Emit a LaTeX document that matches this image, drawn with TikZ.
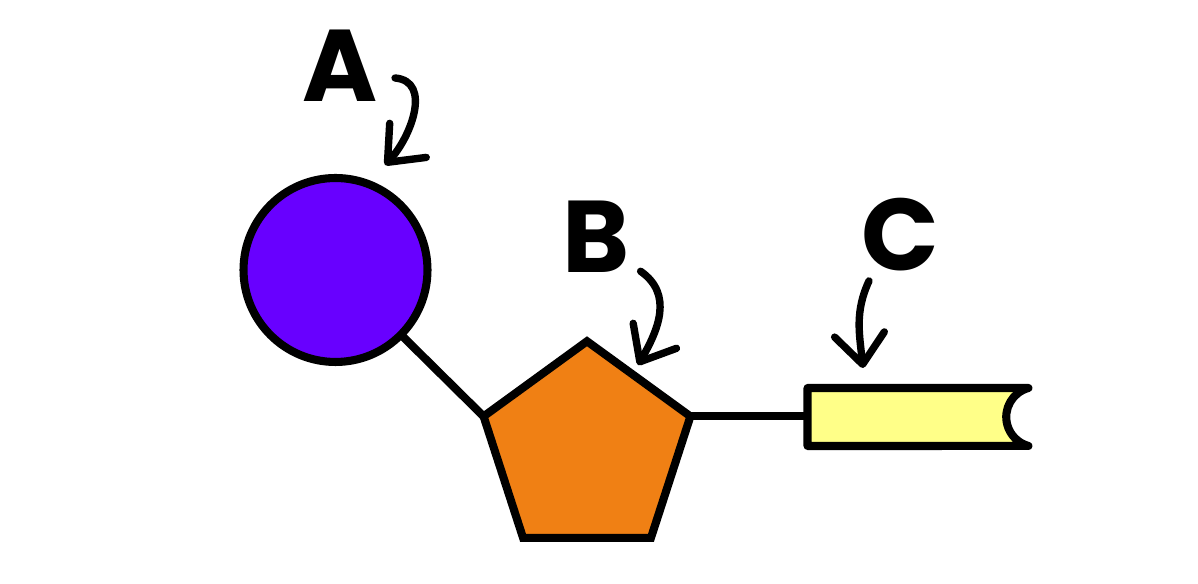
\documentclass[tikz,border=0pt]{standalone}
\usepackage{xcolor}
\usepackage{fontspec}
\setmainfont{Poppins}
\usepackage{tikz}
\usetikzlibrary{shapes.geometric,arrows.meta}

\definecolor{phosphatepurple}{RGB}{104,0,255}
\definecolor{sugarorange}{RGB}{240,128,20}
\definecolor{baseyellow}{RGB}{255,255,136}

\begin{document}
\begin{tikzpicture}[x=0.02cm, y=0.02cm,
    every node/.style={inner sep=0pt, outer sep=0pt},
    outline/.style={draw=black, line width=4.6pt},
    letter/.style={font=\fontsize{58}{58}\selectfont\bfseries},
    pointer/.style={line width=4.2pt, line cap=round, line join=round, -{Straight Barb[length=0.6cm, width=1.0cm, round]}}]
    \useasboundingbox (0,0) rectangle (1198,584);

    % A: phosphate (circle)
    \node[outline, circle, fill=phosphatepurple, minimum size=3.68cm] (phosphate) at (335.5,314) {};

    % B: sugar (pentagon)
    \node[outline, regular polygon, regular polygon sides=5, fill=sugarorange, minimum size=4.35cm] (sugar) at (587,134) {};

    % C: base (notched bar)
    \node[rectangle, minimum width=4.42cm, minimum height=1.16cm] (base) at (918,167) {};
    \draw[outline, line join=round, fill=baseyellow] (base.north west) -- (base.north east)
        arc[start angle=105, end angle=255, radius=0.6cm] -- (base.south west) -- cycle;

    % Bonds
    \draw[line width=4.6pt] (phosphate) -- (sugar.corner 2);
    \draw[line width=4.6pt] (sugar.corner 5) -- (sugar.corner 5 -| base.west);

    % Labels
    \node[letter] (labelA) at (340.5,518) {A};
    \node[letter] (labelB) at (596,347.5) {B};
    \node[letter] (labelC) at (900,349.5) {C};

    % Arrows
    \coordinate (tipA) at (385,419);
    \coordinate (tipB) at (638,219);
    \coordinate (tipC) at (863,216);
    \draw[pointer] ([shift={(17,-12)}]labelA.east) to[out=-5, in=47, looseness=1.1] (tipA);
    \draw[pointer] ([shift={(11,1)}]labelB.south east) to[out=-35, in=60, looseness=1.1] (tipB);
    \draw[pointer] ([shift={(-31,-10)}]labelC.south) to[out=-115, in=96, looseness=1.0] (tipC);
\end{tikzpicture}
\end{document}
